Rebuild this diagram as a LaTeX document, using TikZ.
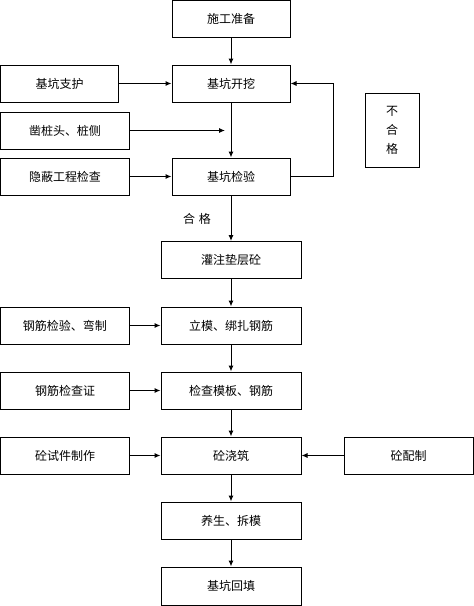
\documentclass[tikz,border=0pt]{standalone}
\usepackage{fontspec}
\setmainfont{Noto Sans CJK SC}
\usetikzlibrary{arrows.meta}

\tikzset{
  box/.style={draw, line width=1pt, minimum height=37pt, inner sep=0pt, font=\fontsize{12}{14}\selectfont},
  mainbox/.style={box, minimum width=140pt},
  sidebox/.style={box, minimum width=129pt},
  flow/.style={line width=1pt, -{Latex[length=6pt,width=5pt]}}
}

\begin{document}
\begin{tikzpicture}[x=1pt,y=-1pt]
	\useasboundingbox (0,0) rectangle (474,606);
	% main column
	\node[box, minimum width=118pt] (sg) at (231,18.5) {施工准备};
	\node[box, minimum width=118pt] (wk) at (231,83.5) {基坑开挖};
	\node[box, minimum width=118pt] (jy) at (231,176.5) {基坑检验};
	\node[mainbox] (dc) at (231,260) {灌注垫层砼};
	\node[mainbox] (lm) at (231,325.5) {立模、绑扎钢筋};
	\node[mainbox] (jc) at (231,390.5) {检查模板、钢筋};
	\node[mainbox] (jz) at (231,455.5) {砼浇筑};
	\node[mainbox] (ys) at (231,520.5) {养生、拆模};
	\node[mainbox, minimum height=38pt] (ht) at (231,586) {基坑回填};
	% side boxes
	\node[box, minimum width=118pt] (zh) at (59.5,83.5) {基坑支护};
	\node[sidebox] (zz) at (65,130.5) {凿桩头、桩侧};
	\node[sidebox] (yb) at (65,176.5) {隐蔽工程检查};
	\node[sidebox] (gj) at (65,325.5) {钢筋检验、弯制};
	\node[sidebox] (gz) at (65,390.5) {钢筋检查证};
	\node[sidebox] (sj) at (65,455.5) {砼试件制作};
	\node[sidebox] (pz) at (408.5,455.5) {砼配制};
	\node[box, minimum width=54pt, minimum height=74pt, align=center, font=\fontsize{12}{19}\selectfont] (bhg) at (392,130) {不\\合\\格};
	\node[font=\fontsize{12}{14}\selectfont] (hg) at (197,219) {合\,\,格};
	\coordinate (zzend) at (225,130.5);

	% connectors
	\draw[flow] (sg) -- (wk);
	\draw[flow] (wk) -- (jy);
	\draw[flow] (jy) -- (dc);
	\draw[flow] (dc) -- (lm);
	\draw[flow] (lm) -- (jc);
	\draw[flow] (jc) -- (jz);
	\draw[flow] (jz) -- (ys);
	\draw[flow] (ys) -- (ht);
	\draw[flow] (zh) -- (wk);
	\draw[flow] (zz) -- (zzend);
	\draw[flow] (yb) -- (jy);
	\draw[flow] (gj) -- (lm);
	\draw[flow] (gz) -- (jc);
	\draw[flow] (sj) -- (jz);
	\draw[flow] (pz) -- (jz);
	\draw[flow] (jy.east) -- ++(43,0) |- (wk.east);
\end{tikzpicture}
\end{document}
